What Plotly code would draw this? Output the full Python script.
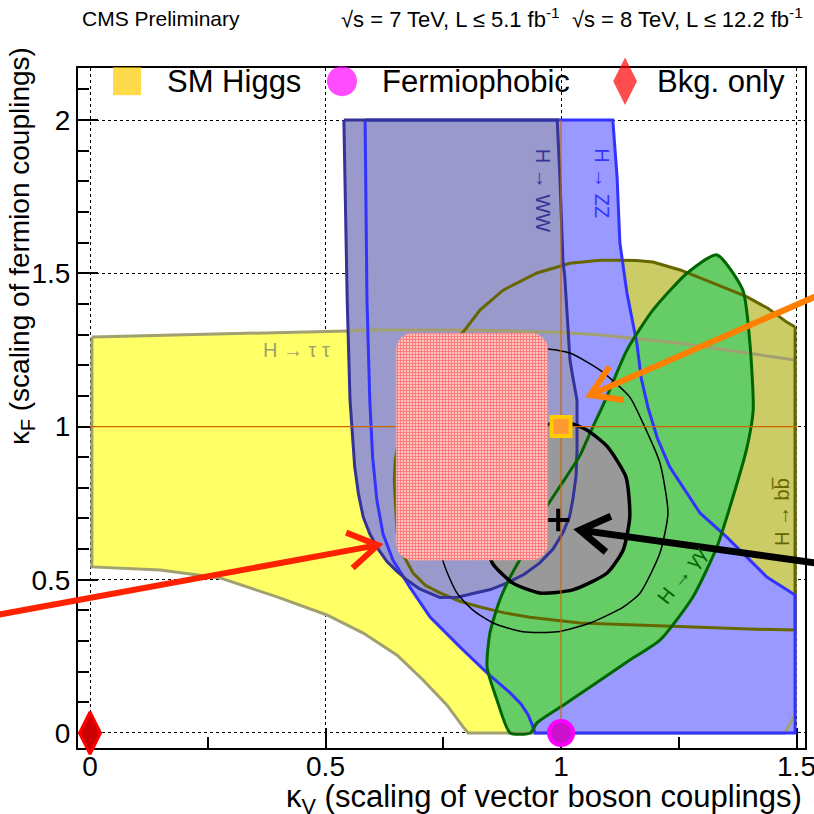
import numpy as np
import plotly.graph_objects as go

FONT = "Liberation Sans, Arial, Helvetica, sans-serif"
W = H = 814
MARGIN = dict(l=78, r=9, t=68, b=66)
X_RANGE = [-0.0255, 1.518]
Y_RANGE = [-0.049, 2.170]

# ---------------- contour data (kappa_V, kappa_F) ----------------
tautau_x = [0.004, 0.234, 0.546, 0.594, 0.807, 0.992, 1.083, 1.253, 1.395, 1.497,
            1.497, 1.475, 0.803, 0.792, 0.758, 0.707, 0.652, 0.580, 0.503, 0.397,
            0.276, 0.149, 0.004, 0.004]
tautau_y = [1.292, 1.300, 1.312, 1.315, 1.315, 1.308, 1.299, 1.272, 1.240, 1.217,
            0.060, 0.000, 0.000, 0.020, 0.091, 0.173, 0.254, 0.326, 0.385, 0.444,
            0.506, 0.532, 0.542, 1.292]

bb_x = [1.497, 1.480, 1.440, 1.395, 1.323, 1.253, 1.195, 1.160, 1.125, 1.083, 1.019,
        0.949, 0.877, 0.828, 0.792, 0.755, 0.722, 0.695, 0.675, 0.658, 0.648, 0.646,
        0.648, 0.652, 0.665, 0.686, 0.712, 0.743, 0.785, 0.828, 0.880, 0.934, 1.040,
        1.168, 1.295, 1.400, 1.497, 1.497]
bb_y = [1.325, 1.340, 1.385, 1.423, 1.468, 1.511, 1.537, 1.542, 1.543, 1.543, 1.533,
        1.501, 1.445, 1.380, 1.308, 1.255, 1.200, 1.130, 1.054, 0.975, 0.891, 0.825,
        0.760, 0.653, 0.580, 0.522, 0.482, 0.457, 0.430, 0.411, 0.392, 0.378, 0.359,
        0.352, 0.343, 0.339, 0.336, 1.325]

zz_x = [0.584, 0.586, 0.588, 0.594, 0.600, 0.609, 0.622, 0.643, 0.679, 0.722, 0.760,
        0.792, 0.843, 0.892, 0.915, 0.930, 0.938, 0.945, 1.200, 1.497, 1.497, 1.437,
        1.352, 1.295, 1.231, 1.205, 1.185, 1.170, 1.161, 1.140, 1.125, 1.119, 1.110,
        0.850, 0.584]
zz_y = [2.000, 1.700, 1.413, 1.086, 0.900, 0.760, 0.650, 0.564, 0.476, 0.378, 0.318,
        0.271, 0.196, 0.131, 0.095, 0.060, 0.030, 0.000, 0.000, 0.000, 0.450, 0.509,
        0.639, 0.718, 0.868, 0.960, 1.060, 1.160, 1.272, 1.436, 1.599, 1.814, 2.000,
        2.000, 2.000]

ww_x = [0.539, 0.543, 0.546, 0.552, 0.562, 0.570, 0.580, 0.594, 0.612, 0.630, 0.650,
        0.673, 0.700, 0.743, 0.780, 0.813, 0.850, 0.885, 0.922, 0.955, 0.983, 1.004,
        1.018, 1.025, 1.032, 1.034, 1.034, 1.025, 1.019, 1.008, 1.004, 0.998, 0.992,
        0.760, 0.539]
ww_y = [2.000, 1.700, 1.413, 1.086, 0.868, 0.780, 0.705, 0.650, 0.600, 0.560, 0.530,
        0.499, 0.470, 0.442, 0.443, 0.455, 0.468, 0.489, 0.518, 0.555, 0.600, 0.653,
        0.705, 0.760, 0.840, 0.923, 1.086, 1.162, 1.217, 1.488, 1.543, 1.800, 2.000,
        2.000, 2.000]

gg_x = [1.331, 1.386, 1.401, 1.408, 1.395, 1.365, 1.331, 1.280, 1.210, 1.146,
        1.062, 1.004, 0.949, 0.935, 0.892, 0.864, 0.843, 0.849, 0.870, 0.894,
        0.925, 0.962, 1.000, 1.040, 1.062, 1.094, 1.140, 1.195, 1.268, 1.331]
gg_y = [1.560, 1.445, 1.272, 1.054, 0.933, 0.770, 0.607, 0.444, 0.303, 0.238,
        0.150, 0.090, 0.033, 0.000, 0.000, 0.108, 0.215, 0.326, 0.434, 0.515,
        0.600, 0.720, 0.810, 0.905, 0.980, 1.086, 1.250, 1.380, 1.501, 1.560]

cl68_x = [0.854, 0.898, 0.955, 1.025, 1.098, 1.132, 1.146, 1.138, 1.098, 1.055,
          1.019, 0.985, 0.935, 0.885, 0.850, 0.840, 0.854]
cl68_y = [0.555, 0.489, 0.457, 0.467, 0.522, 0.597, 0.705, 0.835, 0.935, 0.989,
          1.011, 1.012, 0.985, 0.910, 0.795, 0.665, 0.555]

cl95_x = [0.749, 0.779, 0.813, 0.856, 0.919, 0.992, 1.062, 1.132, 1.168, 1.210,
          1.227, 1.210, 1.174, 1.146, 1.083, 1.019, 0.970, 0.870, 0.796, 0.754,
          0.739, 0.749]
cl95_y = [0.564, 0.457, 0.401, 0.359, 0.330, 0.330, 0.359, 0.411, 0.457, 0.587,
          0.718, 0.881, 1.011, 1.096, 1.184, 1.240, 1.253, 1.233, 1.152, 0.989,
          0.760, 0.564]

# reference lines
vref_x = [1.0, 1.0]
vref_y = [0.0, 2.0]
href_x = [0.0, 1.5]
href_y = [1.0, 1.0]

# points
sm_point = (1.0, 1.0)
fp_point = (1.0, 0.0)
bkg_point = (0.0, 0.0)
best_fit = (0.994, 0.695)

# legend
legend_labels = ["SM Higgs", "Fermiophobic", "Bkg. only"]
legend_marker_x = [0.0786, 0.535, 1.136]
legend_text_x = [0.159, 0.616, 1.200]
legend_y = 2.127

# channel labels
chan_labels = ["H \u2192 \u03c4 \u03c4", "H \u2192 WW", "H \u2192 ZZ", "H \u2192 \u03b3\u03b3", "H \u2192 bb\u0305"]
chan_x = [0.439, 0.962, 1.087, 1.257, 1.469]
chan_y = [1.250, 1.772, 1.794, 0.515, 0.721]
chan_angle = [0, 90, 90, -52, -90]
chan_color = ["#a0a070", "#333399", "#3333ff", "#006600", "#666600"]

# overlay: hatched rounded box and arrows
box_x = [0.650, 0.972]
box_y = [0.564, 1.305]
arrow_tail_x = [1.571, 1.571, -0.2335]
arrow_tail_y = [1.445, 0.548, 0.375]
arrow_tip_x = [1.062, 1.040, 0.611]
arrow_tip_y = [1.103, 0.662, 0.613]
arrow_color = ["#ff8000", "#000000", "#ff2200"]
arrow_width = [6, 7, 6]

# ---------------- figure ----------------
PW = W - MARGIN['l'] - MARGIN['r']
PH = H - MARGIN['t'] - MARGIN['b']
SX = PW / (X_RANGE[1] - X_RANGE[0])
SY = PH / (Y_RANGE[1] - Y_RANGE[0])

fig = go.Figure()

def fill(x, y, color, shape='linear'):
    fig.add_trace(go.Scatter(x=x, y=y, mode='lines', fill='toself', fillcolor=color,
                             line=dict(width=0, shape=shape, smoothing=0.6),
                             hoverinfo='skip', showlegend=False))

def outline(x, y, color, width, shape='linear'):
    fig.add_trace(go.Scatter(x=x, y=y, mode='lines',
                             line=dict(width=width, color=color, shape=shape, smoothing=0.6),
                             hoverinfo='skip', showlegend=False))

fill(tautau_x, tautau_y, '#ffff66')
fill(bb_x, bb_y, '#cccc66')
fill(zz_x, zz_y, '#9999ff')
fill(ww_x, ww_y, '#9999cc')
fill(gg_x, gg_y, '#66cc66', 'spline')
fill(cl68_x, cl68_y, '#999999', 'spline')

outline(tautau_x, tautau_y, '#a0a070', 3)
outline(bb_x, bb_y, '#666600', 3)
outline(zz_x, zz_y, '#3333ff', 3)
outline(ww_x, ww_y, '#333399', 3)
outline(gg_x, gg_y, '#006600', 3, 'spline')
outline(cl95_x, cl95_y, '#000000', 1.5, 'spline')
outline(cl68_x, cl68_y, '#000000', 3.5, 'spline')

outline(vref_x, vref_y, '#cc6600', 1.2)
outline(href_x, href_y, '#cc6600', 1.2)

# special points
fig.add_trace(go.Scatter(x=[sm_point[0]], y=[sm_point[1]], mode='markers',
                         marker=dict(symbol='square', size=19, color='#ff9933',
                                     line=dict(color='#ffcc00', width=4)),
                         showlegend=False, hoverinfo='skip', cliponaxis=False))
fig.add_trace(go.Scatter(x=[fp_point[0]], y=[fp_point[1]], mode='markers',
                         marker=dict(symbol='circle', size=24, color='#cc11cc',
                                     line=dict(color='#ff00ff', width=4)),
                         showlegend=False, hoverinfo='skip', cliponaxis=False))
fig.add_trace(go.Scatter(x=[bkg_point[0]], y=[bkg_point[1]], mode='markers',
                         marker=dict(symbol='diamond-tall', size=30, color='#cc0000',
                                     line=dict(color='#ff0000', width=3)),
                         showlegend=False, hoverinfo='skip', cliponaxis=False))
fig.add_trace(go.Scatter(x=[best_fit[0]], y=[best_fit[1]], mode='markers',
                         marker=dict(symbol='cross-thin', size=16,
                                     line=dict(color='#000000', width=4)),
                         showlegend=False, hoverinfo='skip'))

# hatched rounded box
r_px = 17
rx, ry = r_px / SX, r_px / SY
t = np.linspace(0, np.pi / 2, 10)
bx, by = [], []
for cx, cy, a0 in [(box_x[1] - rx, box_y[1] - ry, 0.0), (box_x[0] + rx, box_y[1] - ry, np.pi / 2),
                   (box_x[0] + rx, box_y[0] + ry, np.pi), (box_x[1] - rx, box_y[0] + ry, 1.5 * np.pi)]:
    bx += list(cx + rx * np.cos(a0 + t))
    by += list(cy + ry * np.sin(a0 + t))
bx.append(bx[0]); by.append(by[0])
fig.add_trace(go.Scatter(x=bx, y=by, mode='lines', fill='toself', fillcolor='#ffb8b8',
                         fillpattern=dict(shape='+', fgcolor='#ff2626', bgcolor='#ffc4c4',
                                          size=3, solidity=0.5),
                         line=dict(width=0.5, color='#ff9999'),
                         hoverinfo='skip', showlegend=False))

# legend markers
fig.add_trace(go.Scatter(x=legend_marker_x, y=[legend_y] * 3, mode='markers',
                         marker=dict(symbol=['square', 'circle', 'diamond-tall'],
                                     size=[28, 30, 34],
                                     color=['#ffcc00', '#ff00ff', '#ff0000'],
                                     line=dict(width=0)),
                         showlegend=False, hoverinfo='skip', cliponaxis=False))

annotations = []
for lab, lx in zip(legend_labels, legend_text_x):
    annotations.append(dict(x=lx, y=legend_y, xref='x', yref='y', text=lab, showarrow=False,
                            xanchor='left', yanchor='middle',
                            font=dict(family=FONT, size=31, color='black')))
for lab, cx, cy, ang, col in zip(chan_labels, chan_x, chan_y, chan_angle, chan_color):
    annotations.append(dict(x=cx, y=cy, xref='x', yref='y', text=lab, showarrow=False,
                            textangle=ang, xanchor='center', yanchor='middle',
                            font=dict(family=FONT, size=20, color=col)))

def to_paper(x, y):
    return ((x - X_RANGE[0]) / (X_RANGE[1] - X_RANGE[0]),
            (y - Y_RANGE[0]) / (Y_RANGE[1] - Y_RANGE[0]))

annotations.append(dict(x=(80 - MARGIN['l']) / PW, y=1.0735, xref='paper', yref='paper',
                        text="CMS Preliminary", showarrow=False, xanchor='left', yanchor='middle',
                        font=dict(family=FONT, size=21, color='black')))
annotations.append(dict(x=1.0, y=1.0735, xref='paper', yref='paper',
                        text="\u221as = 7 TeV, L \u2264 5.1 fb<sup>-1</sup>  \u221as = 8 TeV, L \u2264 12.2 fb<sup>-1</sup>",
                        showarrow=False, xanchor='right', yanchor='middle',
                        font=dict(family=FONT, size=22, color='black')))
annotations.append(dict(x=(804 - MARGIN['l']) / PW, y=(748 - 799) / PH, xref='paper', yref='paper',
                        text="\u03ba<sub>V</sub> (scaling of vector boson couplings)",
                        showarrow=False, xanchor='right', yanchor='middle',
                        font=dict(family=FONT, size=31, color='black')))
annotations.append(dict(x=(22 - MARGIN['l']) / PW, y=(748 - 45) / PH, xref='paper', yref='paper',
                        text="\u03ba<sub>F</sub> (scaling of fermion couplings)", textangle=-90,
                        showarrow=False, xanchor='center', yanchor='top',
                        font=dict(family=FONT, size=28, color='black')))

# arrows as paper-referenced paths
shapes = []
L, th = 34.0, np.deg2rad(32)
for tx, ty, hx, hy, col, wd in zip(arrow_tail_x, arrow_tail_y, arrow_tip_x, arrow_tip_y,
                                   arrow_color, arrow_width):
    tpx, tpy = to_paper(tx, ty)
    hpx, hpy = to_paper(hx, hy)
    dx, dy = (tpx - hpx) * PW, (tpy - hpy) * PH
    n = np.hypot(dx, dy); dx, dy = dx / n, dy / n
    arms = []
    for s in (1, -1):
        ax = dx * np.cos(s * th) - dy * np.sin(s * th)
        ay = dx * np.sin(s * th) + dy * np.cos(s * th)
        arms.append((hpx + L * ax / PW, hpy + L * ay / PH))
    path = (f"M{tpx:.5f},{tpy:.5f} L{hpx:.5f},{hpy:.5f} "
            f"M{arms[0][0]:.5f},{arms[0][1]:.5f} L{hpx:.5f},{hpy:.5f} L{arms[1][0]:.5f},{arms[1][1]:.5f}")
    shapes.append(dict(type='path', path=path, xref='paper', yref='paper', layer='above',
                       line=dict(color=col, width=wd)))

axis_common = dict(showline=True, mirror=True, linecolor='black', linewidth=2,
                   ticks='inside', ticklen=20, tickwidth=1.5, tickcolor='black',
                   showgrid=True, gridcolor='black', griddash='dot', gridwidth=1,
                   zeroline=False, layer='below traces', ticklabeloverflow='allow',
                   automargin=False,
                   tickfont=dict(family=FONT, size=28, color='black'))

fig.update_layout(
    width=W, height=H, margin=dict(MARGIN, autoexpand=False),
    paper_bgcolor='white', plot_bgcolor='white',
    xaxis=dict(range=X_RANGE, tickvals=[0, 0.5, 1, 1.5], ticktext=['0', '0.5', '1', '1.5'],
               ticklabelstandoff=-8,
               minor=dict(ticks='inside', ticklen=11, tickwidth=1.5, dtick=0.25, tick0=0,
                          tickcolor='black', showgrid=False),
               **axis_common),
    yaxis=dict(range=Y_RANGE, tickvals=[0, 0.5, 1, 1.5, 2], ticktext=['0', '0.5', '1', '1.5', '2'],
               minor=dict(ticks='inside', ticklen=11, tickwidth=1.5, dtick=0.1, tick0=0,
                          tickcolor='black', showgrid=False),
               **axis_common),
    annotations=annotations, shapes=shapes, showlegend=False,
)

fig.write_html("out.html")
